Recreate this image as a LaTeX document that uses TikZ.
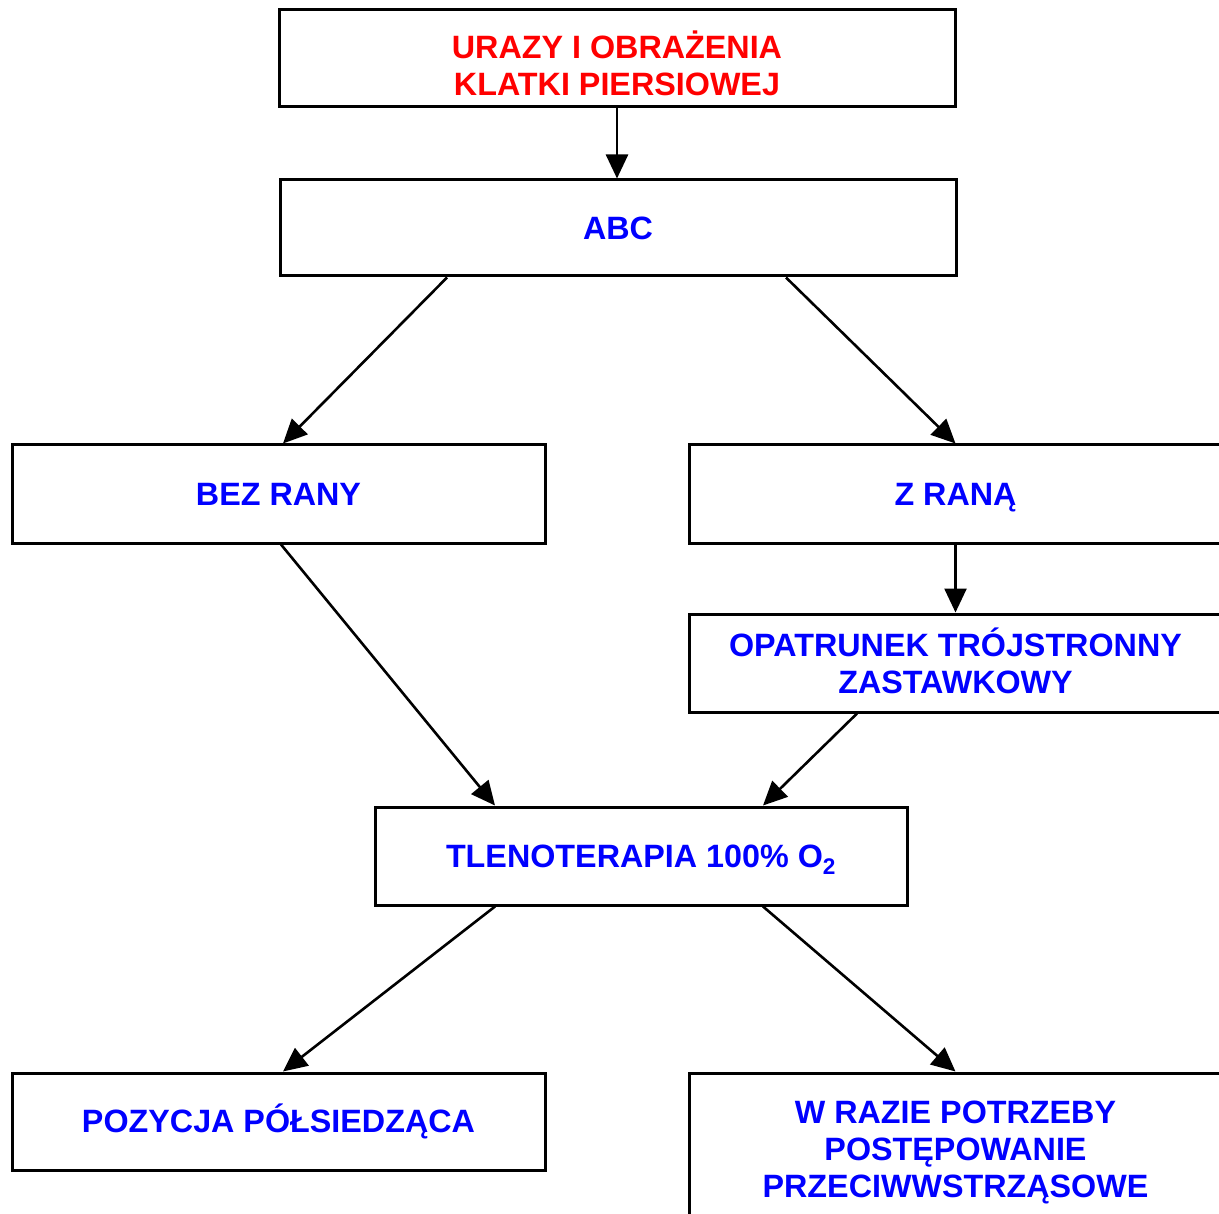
\documentclass[tikz,border=0pt]{standalone}
\usepackage{fontspec}
\setmainfont{Liberation Sans}
\usetikzlibrary{arrows.meta}
\begin{document}
\begin{tikzpicture}[x=1pt,y=-1pt,
  box/.style={draw=black,line width=3pt,fill=white,inner sep=0pt,align=center,
    font=\fontsize{32.3}{37}\selectfont\bfseries,text=blue},
  lbl/.style={inner sep=0pt,align=center,font=\fontsize{32.3}{37}\selectfont\bfseries,text=blue},
  conn/.style={line width=2.6pt,-{Triangle[length=24pt,width=22pt]}}]
\clip (0,0) rectangle (1219,1214);
\fill[white] (0,0) rectangle (1219,1214);
\node[box,minimum width=676pt,minimum height=97pt] (top) at (617,58.5) {};
\node[lbl,text=red] (toplbl) at ([yshift=-5pt]top.center) {URAZY I OBRAŻENIA\\KLATKI PIERSIOWEJ};
\node[box,minimum width=676pt,minimum height=96pt] (abc) at (618,228) {ABC};
\node[box,minimum width=533pt,minimum height=98pt] (bez) at (278.5,494) {BEZ RANY};
\node[box,minimum width=533pt,minimum height=98pt,text depth=0pt] (zrana) at (955.5,494) {Z RANĄ};
\node[box,minimum width=533pt,minimum height=98pt] (opat) at (955.5,663) {};
\node[lbl] (opatlbl) at ([yshift=2pt]opat.center) {OPATRUNEK TRÓJSTRONNY\\ZASTAWKOWY};
\node[box,minimum width=532pt,minimum height=98pt,text depth=0pt] (tlen) at (641,856) {TLENOTERAPIA 100\% O\textsubscript{2}};
\node[box,minimum width=533pt,minimum height=97pt] (poz) at (278.5,1121.5) {POZYCJA PÓŁSIEDZĄCA};
\node[box,minimum width=533pt,minimum height=152pt] (wraz) at (955.5,1149) {};
\node[lbl] (wrazlbl) at ([yshift=-3pt]wraz.center) {W RAZIE POTRZEBY\\POSTĘPOWANIE\\PRZECIWWSTRZĄSOWE};
\draw[conn] (top.south) -- (top.south |- abc.north);
\draw[conn] ([xshift=-171pt]abc.south) -- ([xshift=4.5pt]bez.north);
\draw[conn] ([xshift=168pt]abc.south) -- (zrana.north);
\draw[conn] (zrana.south) -- (opat.north);
\draw[conn] ([xshift=2.5pt]bez.south) -- ([xshift=-146pt]tlen.north);
\draw[conn] ([xshift=-98.5pt]opat.south) -- ([xshift=122pt]tlen.north);
\draw[conn] ([xshift=-146pt]tlen.south) -- ([xshift=4.5pt]poz.north);
\draw[conn] ([xshift=122pt]tlen.south) -- (wraz.north);
\end{tikzpicture}
\end{document}
